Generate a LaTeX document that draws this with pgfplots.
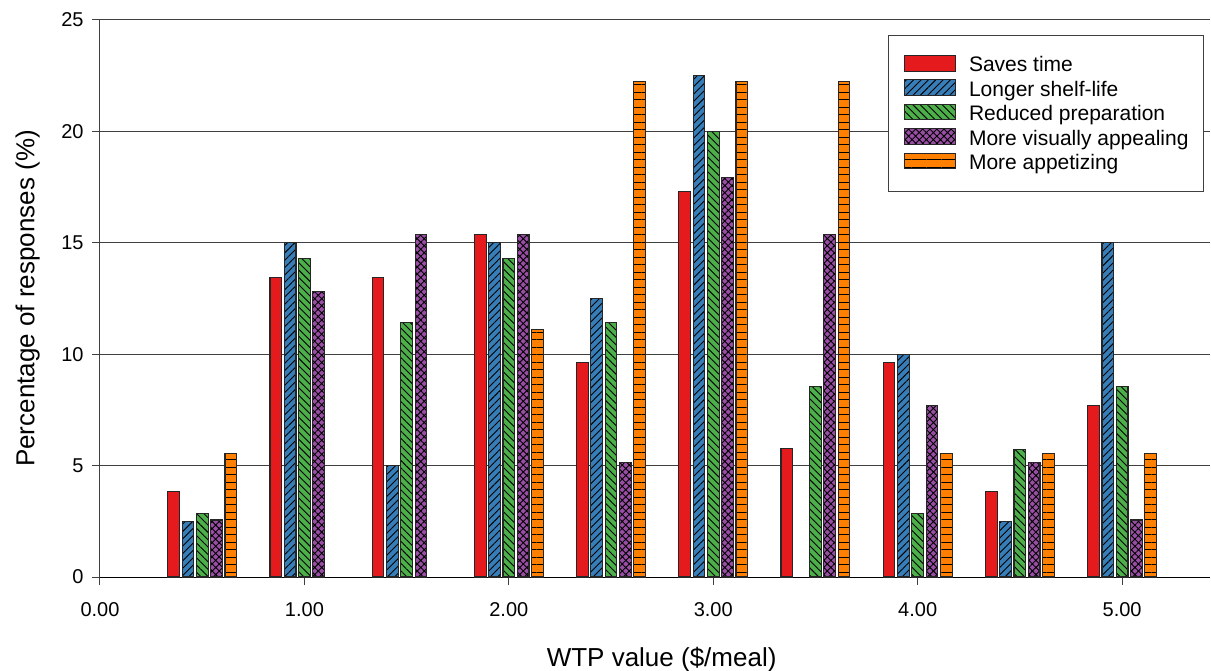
\documentclass[border=0pt]{standalone}
\usepackage{fontspec}
\setmainfont{Liberation Sans}
\usepackage{pgfplots}
\pgfplotsset{compat=1.18}
\usetikzlibrary{patterns.meta}
\definecolor{cred}{HTML}{E41A1C}
\definecolor{cblue}{HTML}{377EB8}
\definecolor{cgreen}{HTML}{4DAF4A}
\definecolor{cpurple}{HTML}{984EA3}
\definecolor{corange}{HTML}{FF7F00}
\definecolor{gridc}{HTML}{404040}
\begin{document}
\begin{tikzpicture}
\begin{axis}[
  at={(0,0)}, anchor=south west,
  scale only axis,
  width=555pt, height=278.5pt,
  xmin=0, xmax=5.43, ymin=0, ymax=25,
  axis x line*=bottom, axis y line*=left,
  axis line style={gridc, line width=0.5pt},
  x axis line style={black},
  ymajorgrids, major grid style={gridc, line width=0.5pt},
  tick align=outside, major tick length=4pt,
  tick style={gridc, line width=0.5pt},
  xtick={0,1,2,3,4,5},
  xticklabels={0.00,1.00,2.00,3.00,4.00,5.00},
  ytick={0,5,10,15,20,25},
  yticklabels={0,5,10,15,20,25},
  xticklabel style={font=\fontsize{10}{12}\selectfont, inner sep=0pt, anchor=north, yshift=-8.5pt},
  yticklabel style={font=\fontsize{10}{12}\selectfont, inner sep=0pt, anchor=east, xshift=-4pt},
  xlabel={WTP value (\$/meal)},
  ylabel={Percentage of responses (\%)},
  xlabel style={font=\fontsize{13}{15}\selectfont, inner sep=0pt, at={(axis description cs:0.506,-0.1257)}, anchor=north},
  ylabel style={font=\fontsize{13}{15}\selectfont, inner sep=0pt, at={(axis description cs:-0.054,0.5)}, anchor=south, rotate=0},
  ybar=1.3pt, bar width=5.85pt,
  every axis plot/.append style={draw=black!85, line width=0.55pt},
  area legend,
  legend image code/.code={\draw[#1] (0pt,-3.1pt) rectangle (25.5pt,4.7pt);},
  legend cell align=left,
  legend style={at={(axis description cs:0.9946,0.9731)}, anchor=north east,
    draw=gridc, line width=0.5pt, fill=white,
    font=\fontsize{10.5}{12}\selectfont,
    inner xsep=7.5pt, inner ysep=8.6pt, row sep=0pt,
    nodes={inner sep=0pt, text height=9.6pt, text depth=2.6pt},
    /tikz/every odd column/.append style={column sep=6.5pt}},
]
\addplot[fill=cred] coordinates {(0.5,3.85) (1,13.46) (1.5,13.46) (2,15.38) (2.5,9.62) (3,17.31) (3.5,5.77) (4,9.62) (4.5,3.85) (5,7.69)};
\addplot[fill=cblue, postaction={pattern={Lines[angle=45,distance=2.6pt,line width=0.45pt]}, pattern color=black}] coordinates {(0.5,2.5) (1,15) (1.5,5) (2,15) (2.5,12.5) (3,22.5) (4,10) (4.5,2.5) (5,15)};
\addplot[fill=cgreen, postaction={pattern={Lines[angle=-45,distance=2.6pt,line width=0.45pt]}, pattern color=black}] coordinates {(0.5,2.86) (1,14.29) (1.5,11.43) (2,14.29) (2.5,11.43) (3,20) (3.5,8.57) (4,2.86) (4.5,5.71) (5,8.57)};
\addplot[fill=cpurple, postaction={pattern={Hatch[angle=45,distance=2.5pt,line width=0.45pt]}, pattern color=black}] coordinates {(0.5,2.56) (1,12.82) (1.5,15.38) (2,15.38) (2.5,5.13) (3,17.95) (3.5,15.38) (4,7.69) (4.5,5.13) (5,2.56)};
\addplot[fill=corange, postaction={pattern={Lines[angle=0,distance=3.75pt,line width=0.5pt]}, pattern color=black}] coordinates {(0.5,5.56) (2,11.11) (2.5,22.22) (3,22.22) (3.5,22.22) (4,5.56) (4.5,5.56) (5,5.56)};
\legend{Saves time, Longer shelf-life, Reduced preparation, More visually appealing, More appetizing}
\end{axis}
\pgfresetboundingbox
\useasboundingbox (-50pt,-46.5pt) rectangle (555.5pt,288.5pt);
\end{tikzpicture}
\end{document}
